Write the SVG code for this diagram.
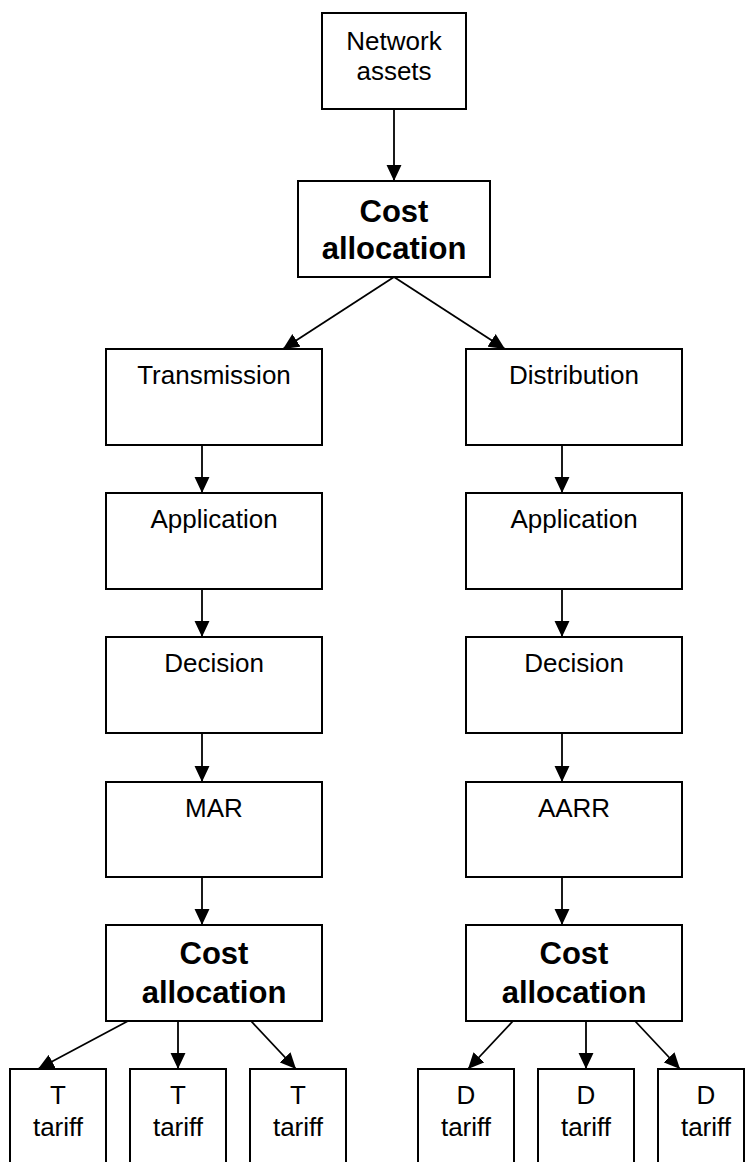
<svg xmlns="http://www.w3.org/2000/svg" width="745" height="1162" viewBox="0 0 745 1162">
<style>
.box{fill:#fff;stroke:#000;stroke-width:2}
.t{font-family:"Liberation Sans",Arial,sans-serif;font-size:26px;text-anchor:middle;fill:#000}
.b{font-family:"Liberation Sans",Arial,sans-serif;font-size:31px;font-weight:bold;text-anchor:middle;fill:#000}
.c{stroke:#000;stroke-width:1.8;fill:none;marker-end:url(#ah)}
</style>
<defs>
<marker id="ah" markerUnits="userSpaceOnUse" markerWidth="16" markerHeight="16" viewBox="0 0 15 14" refX="15" refY="7" orient="auto">
<path d="M0,0 L15,7 L0,14 z" fill="#000"/>
</marker>
</defs>
<rect width="745" height="1162" fill="#fff"/>
<g id="connectors">
<line class="c" x1="394" y1="109" x2="394" y2="181"/>
<line class="c" x1="394" y1="277" x2="283" y2="349"/>
<line class="c" x1="394" y1="277" x2="505" y2="349"/>
<line class="c" x1="202" y1="445" x2="202" y2="493"/>
<line class="c" x1="202" y1="589" x2="202" y2="637"/>
<line class="c" x1="202" y1="733" x2="202" y2="782"/>
<line class="c" x1="202" y1="877" x2="202" y2="925"/>
<line class="c" x1="562" y1="445" x2="562" y2="493"/>
<line class="c" x1="562" y1="589" x2="562" y2="637"/>
<line class="c" x1="562" y1="733" x2="562" y2="782"/>
<line class="c" x1="562" y1="877" x2="562" y2="925"/>
<line class="c" x1="128" y1="1021" x2="38" y2="1069"/>
<line class="c" x1="178" y1="1021" x2="178" y2="1069"/>
<line class="c" x1="251" y1="1021" x2="296" y2="1069"/>
<line class="c" x1="513" y1="1021" x2="468" y2="1069"/>
<line class="c" x1="586" y1="1021" x2="586" y2="1069"/>
<line class="c" x1="635" y1="1021" x2="680" y2="1069"/>
</g>
<g id="network-assets">
<rect class="box" x="322" y="13" width="144" height="96"/>
<text class="t" x="394" y="50">Network</text>
<text class="t" x="394" y="80">assets</text>
</g>
<g id="cost-allocation-top">
<rect class="box" x="298" y="181" width="192" height="96"/>
<text class="b" x="394" y="222">Cost</text>
<text class="b" x="394" y="259">allocation</text>
</g>
<g id="transmission">
<rect class="box" x="106" y="349" width="216" height="96"/>
<text class="t" x="214" y="384">Transmission</text>
</g>
<g id="distribution">
<rect class="box" x="466" y="349" width="216" height="96"/>
<text class="t" x="574" y="384">Distribution</text>
</g>
<g id="t-application">
<rect class="box" x="106" y="493" width="216" height="96"/>
<text class="t" x="214" y="528">Application</text>
</g>
<g id="d-application">
<rect class="box" x="466" y="493" width="216" height="96"/>
<text class="t" x="574" y="528">Application</text>
</g>
<g id="t-decision">
<rect class="box" x="106" y="637" width="216" height="96"/>
<text class="t" x="214" y="672">Decision</text>
</g>
<g id="d-decision">
<rect class="box" x="466" y="637" width="216" height="96"/>
<text class="t" x="574" y="672">Decision</text>
</g>
<g id="mar">
<rect class="box" x="106" y="782" width="216" height="95"/>
<text class="t" x="214" y="817">MAR</text>
</g>
<g id="aarr">
<rect class="box" x="466" y="782" width="216" height="95"/>
<text class="t" x="574" y="817">AARR</text>
</g>
<g id="t-cost-allocation">
<rect class="box" x="106" y="925" width="216" height="96"/>
<text class="b" x="214" y="964">Cost</text>
<text class="b" x="214" y="1003">allocation</text>
</g>
<g id="d-cost-allocation">
<rect class="box" x="466" y="925" width="216" height="96"/>
<text class="b" x="574" y="964">Cost</text>
<text class="b" x="574" y="1003">allocation</text>
</g>
<g id="t-tariff-1">
<rect class="box" x="10" y="1069" width="96" height="110"/>
<text class="t" x="58" y="1104">T</text>
<text class="t" x="58" y="1136">tariff</text>
</g>
<g id="t-tariff-2">
<rect class="box" x="130" y="1069" width="96" height="110"/>
<text class="t" x="178" y="1104">T</text>
<text class="t" x="178" y="1136">tariff</text>
</g>
<g id="t-tariff-3">
<rect class="box" x="250" y="1069" width="96" height="110"/>
<text class="t" x="298" y="1104">T</text>
<text class="t" x="298" y="1136">tariff</text>
</g>
<g id="d-tariff-1">
<rect class="box" x="418" y="1069" width="96" height="110"/>
<text class="t" x="466" y="1104">D</text>
<text class="t" x="466" y="1136">tariff</text>
</g>
<g id="d-tariff-2">
<rect class="box" x="538" y="1069" width="96" height="110"/>
<text class="t" x="586" y="1104">D</text>
<text class="t" x="586" y="1136">tariff</text>
</g>
<g id="d-tariff-3">
<rect class="box" x="658" y="1069" width="86" height="110"/>
<text class="t" x="706" y="1104">D</text>
<text class="t" x="706" y="1136">tariff</text>
</g>
</svg>
